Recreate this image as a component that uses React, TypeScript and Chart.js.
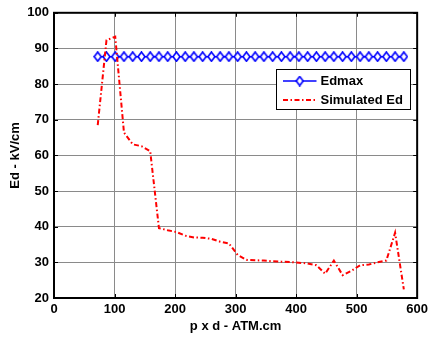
import React, { useEffect, useRef } from "react";
import { Chart, registerables } from "chart.js";

Chart.register(...registerables);

// p x d values (ATM.cm)
const pxd = [
  72.25, 86.7, 101.15, 115.6, 130.05, 144.5, 158.95, 173.4, 187.85, 202.3,
  216.75, 231.2, 245.65, 260.1, 274.55, 289, 303.45, 317.9, 332.35, 346.8,
  361.25, 375.7, 390.15, 404.6, 419.05, 433.5, 447.95, 462.4, 476.85, 491.3,
  505.75, 520.2, 534.65, 549.1, 563.55, 578,
];

// Edmax (kV/cm)
const edmax = [
  87.7, 87.7, 87.7, 87.7, 87.7, 87.7, 87.7, 87.7, 87.7, 87.7,
  87.7, 87.7, 87.7, 87.7, 87.7, 87.7, 87.7, 87.7, 87.7, 87.7,
  87.7, 87.7, 87.7, 87.7, 87.7, 87.7, 87.7, 87.7, 87.7, 87.7,
  87.7, 87.7, 87.7, 87.7, 87.7, 87.7,
];

// Simulated Ed (kV/cm)
const simulatedEd = [
  68.5, 92.3, 93.3, 66.4, 63.1, 62.6, 61.2, 39.6, 39.0, 38.5,
  37.5, 37.0, 36.9, 36.6, 35.8, 35.3, 32.1, 30.7, 30.6, 30.5,
  30.3, 30.2, 30.1, 29.9, 29.7, 29.2, 26.8, 30.5, 26.4, 27.6,
  29.2, 29.4, 30.0, 30.5, 38.3, 22.4,
];

const xTickValues = [0, 100, 200, 300, 400, 500, 600];
const yTickValues = [20, 30, 40, 50, 60, 70, 80, 90, 100];
const seriesNames = ["Edmax", "Simulated Ed"];
const xTitle = "p x d - ATM.cm";
const yTitle = "Ed - kV/cm";

const FONT = "'Liberation Sans', Arial, Helvetica, sans-serif";
const BLUE = "#0000ff";
const RED = "#ff0000";
const RED_DASH = [5, 2.5, 1.5, 2.5];

function makeDiamond(): HTMLCanvasElement {
  const c = document.createElement("canvas");
  c.width = 9;
  c.height = 11;
  const g = c.getContext("2d")!;
  g.beginPath();
  g.moveTo(4.5, 0.9);
  g.lineTo(8.0, 5.5);
  g.lineTo(4.5, 10.1);
  g.lineTo(1.0, 5.5);
  g.closePath();
  g.fillStyle = "#ffffff";
  g.fill();
  g.strokeStyle = BLUE;
  g.lineWidth = 1.6;
  g.stroke();
  return c;
}

export default function App() {
  const ref = useRef<HTMLCanvasElement>(null);

  useEffect(() => {
    if (!ref.current) return;
    const diamond = makeDiamond();

    const framePlugin = {
      id: "matlabFrame",
      afterDraw(chart: any) {
        const ctx = chart.ctx as CanvasRenderingContext2D;
        const ca = chart.chartArea;
        const xs = chart.scales.x;
        const ys = chart.scales.y;
        ctx.save();
        // inward ticks
        ctx.strokeStyle = "#000";
        ctx.lineWidth = 1;
        const tl = 4;
        ctx.beginPath();
        for (const v of xTickValues) {
          const px = Math.round(xs.getPixelForValue(v)) + 0.5;
          ctx.moveTo(px, ca.bottom);
          ctx.lineTo(px, ca.bottom - tl);
          ctx.moveTo(px, ca.top);
          ctx.lineTo(px, ca.top + tl);
        }
        for (const v of yTickValues) {
          const py = Math.round(ys.getPixelForValue(v)) + 0.5;
          ctx.moveTo(ca.left, py);
          ctx.lineTo(ca.left + tl, py);
          ctx.moveTo(ca.right, py);
          ctx.lineTo(ca.right - tl, py);
        }
        ctx.stroke();
        // box
        ctx.lineWidth = 2;
        ctx.strokeRect(ca.left, ca.top, ca.right - ca.left, ca.bottom - ca.top);

        // legend
        const bw = 134;
        const bh = 40;
        const bx = Math.round(ca.right - 7.5 - bw) + 0.5;
        const by = Math.round(ca.top + 56) + 0.5;
        ctx.fillStyle = "#fff";
        ctx.fillRect(bx, by, bw, bh);
        ctx.lineWidth = 1;
        ctx.strokeStyle = "#000";
        ctx.strokeRect(bx, by, bw, bh);
        const lx0 = bx + 6.5;
        const lx1 = bx + 40;
        const r1 = by + 11.5;
        const r2 = by + 30.5;
        // row 1
        ctx.strokeStyle = BLUE;
        ctx.lineWidth = 1.5;
        ctx.beginPath();
        ctx.moveTo(lx0, r1);
        ctx.lineTo(lx1, r1);
        ctx.stroke();
        ctx.drawImage(diamond, (lx0 + lx1) / 2 - diamond.width / 2, r1 - diamond.height / 2);
        // row 2
        ctx.strokeStyle = RED;
        ctx.lineWidth = 2;
        ctx.setLineDash(RED_DASH);
        ctx.beginPath();
        ctx.moveTo(lx0, r2);
        ctx.lineTo(lx1, r2);
        ctx.stroke();
        ctx.setLineDash([]);
        ctx.fillStyle = "#000";
        ctx.font = `bold 13px ${FONT}`;
        ctx.textBaseline = "middle";
        ctx.textAlign = "left";
        ctx.fillText(seriesNames[0], bx + 44, r1 + 0.5);
        ctx.fillText(seriesNames[1], bx + 44, r2 + 0.5);
        ctx.restore();
      },
    };

    const chart = new Chart(ref.current, {
      type: "line",
      data: {
        datasets: [
          {
            label: seriesNames[0],
            data: pxd.map((x, i) => ({ x, y: edmax[i] })),
            borderColor: BLUE,
            borderWidth: 1.5,
            pointStyle: diamond as any,
            pointRadius: 4,
            backgroundColor: "#fff",
            tension: 0,
            order: 1,
          },
          {
            label: seriesNames[1],
            data: pxd.map((x, i) => ({ x, y: simulatedEd[i] })),
            borderColor: RED,
            borderWidth: 2,
            borderDash: RED_DASH,
            pointRadius: 0,
            tension: 0,
            order: 0,
          },
        ],
      },
      options: {
        animation: false,
        responsive: false,
        devicePixelRatio: 1,
        layout: { padding: { top: 12, right: 12, left: 0, bottom: 0 } },
        plugins: {
          legend: { display: false },
          tooltip: { enabled: false },
        },
        scales: {
          x: {
            type: "linear",
            min: xTickValues[0],
            max: xTickValues[xTickValues.length - 1],
            ticks: {
              stepSize: 100,
              color: "#000",
              font: { family: FONT, size: 13, weight: "bold" },
              padding: 4,
              maxRotation: 0,
            },
            grid: { color: "#8a8a8a", lineWidth: 1, drawTicks: false },
            border: { display: false },
            title: {
              display: true,
              text: xTitle,
              color: "#000",
              font: { family: FONT, size: 13, weight: "bold" },
              padding: { top: 0, bottom: 5 },
            },
            afterFit: (s: any) => {
              s.height = 41;
            },
          },
          y: {
            type: "linear",
            min: yTickValues[0],
            max: yTickValues[yTickValues.length - 1],
            ticks: {
              stepSize: 10,
              color: "#000",
              font: { family: FONT, size: 13, weight: "bold" },
              padding: 5,
            },
            grid: { color: "#8a8a8a", lineWidth: 1, drawTicks: false },
            border: { display: false },
            title: {
              display: true,
              text: yTitle,
              color: "#000",
              font: { family: FONT, size: 13, weight: "bold" },
              padding: { top: 8, bottom: 0 },
            },
            afterFit: (s: any) => {
              s.width = 54;
            },
          },
        },
      },
      plugins: [framePlugin],
    });

    return () => chart.destroy();
  }, []);

  return (
    <div
      style={{
        position: "fixed",
        left: 0,
        top: 0,
        width: 432,
        height: 339,
        background: "#fff",
      }}
    >
      <canvas ref={ref} width={432} height={339} style={{ width: 432, height: 339, display: "block" }} />
    </div>
  );
}
